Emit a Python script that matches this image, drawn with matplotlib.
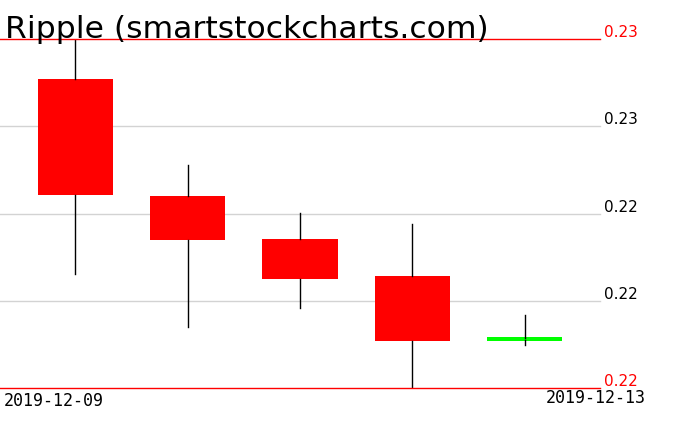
import numpy as np
import matplotlib
matplotlib.use('Agg')
import matplotlib.pyplot as plt

# daily OHLC
dates = ['2019-12-09', '2019-12-10', '2019-12-11', '2019-12-12', '2019-12-13']
opens = [0.22685, 0.22350, 0.22227, 0.22121, 0.21938]
closes = [0.22353, 0.22224, 0.22112, 0.21935, 0.21942]
highs = [0.22800, 0.22439, 0.22301, 0.22270, 0.22009]
lows = [0.22127, 0.21975, 0.22029, 0.21800, 0.21923]

W, H = 676, 431
fig = plt.figure(figsize=(W / 100, H / 100), dpi=100)
ax = fig.add_axes([0, (H - 389) / H, 600 / W, (389 - 40) / H])

lo, hi = min(lows), max(highs)
span = hi - lo
min_body = span * 4 / 349   # a doji still gets a few pixels

x = np.arange(len(dates))
for i in x:
    o, c = opens[i], closes[i]
    col = '#00ff00' if c >= o else '#ff0000'
    bottom = min(o, c)
    h = abs(c - o)
    if h < min_body:
        bottom = (o + c) / 2 - min_body / 2
        h = min_body
    ax.bar(i, h, bottom=bottom, width=0.667, color=col, zorder=2)
    ax.plot([i, i], [max(o, c), highs[i]], color='black', lw=1, zorder=3)
    ax.plot([i, i], [lows[i], min(o, c)], color='black', lw=1, zorder=3)

levels = np.linspace(lo, hi, 5)
for k, v in enumerate(levels):
    edge = k == 0 or k == len(levels) - 1
    ax.axhline(v, color='red' if edge else '#d3d3d3', lw=1,
               zorder=4 if edge else 1, clip_on=False)
    ax.text(1 + 4 / 600, v, '%.2f' % v, transform=ax.get_yaxis_transform(),
            ha='left', va='bottom', fontsize=11, color='red' if edge else 'black',
            clip_on=False)

ax.set_xlim(-0.667, 4.667)
ax.set_ylim(lo, hi)
ax.axis('off')

fig.text(5 / W, 1 - 38 / H, 'Ripple (smartstockcharts.com)', fontsize=22.6,
         va='baseline', ha='left')
fig.text(4 / W, 1 - 406 / H, dates[0], fontsize=12, family='DejaVu Sans Mono',
         va='baseline', ha='left')
fig.text(646 / W, 1 - 403 / H, dates[-1], fontsize=12, family='DejaVu Sans Mono',
         va='baseline', ha='right')

plt.savefig('out.png', dpi=100)
